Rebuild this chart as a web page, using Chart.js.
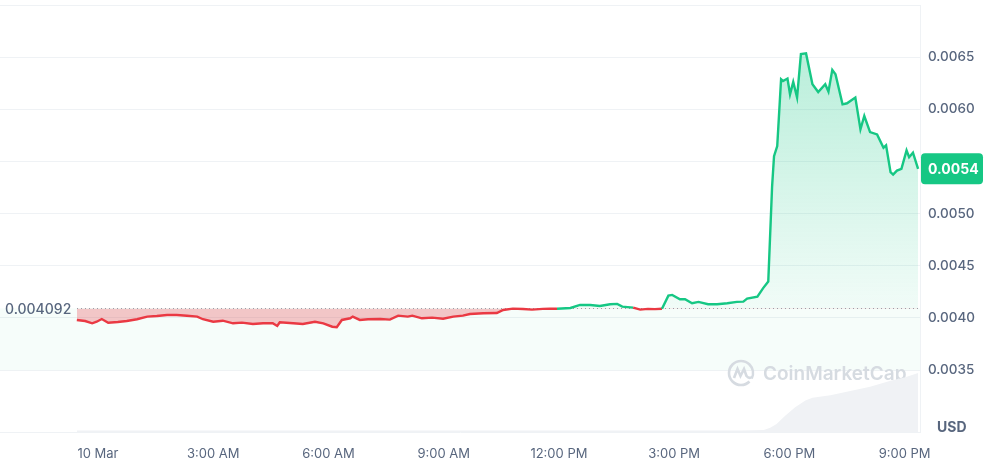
<!DOCTYPE html>
<html>
<head>
<meta charset="utf-8">
<script src="https://cdn.jsdelivr.net/npm/chart.js@4.4.1/dist/chart.umd.min.js"></script>
<style>
  html, body { margin: 0; padding: 0; background: #ffffff; }
  #wrap { width: 987px; height: 458px; }
</style>
</head>
<body>
<div id="wrap"><canvas id="c" width="987" height="458"></canvas></div>
<script>
// ---- Data (minutes from 00:00, 10 Mar) ----
const baseline = 0.004092;
const minutes = [-33,-20,-9,-2,6,16,31,45,61,77,92,108,123,139,155,164,180,195,211,225,242,258,273,280,284,305,320,339,352,366,373,381,394,398,409,422,441,456,469,484,491,506,522,539,555,570,581,602,623,633,648,664,678,695,706,717,738,753,769,784,800,811,819,836,847,859,870,881,891,897,909,917,928,938,953,967,983,998,1008,1014,1030,1039,1047,1053,1056,1061,1067,1070,1077,1081,1086,1092,1098,1106,1116,1125,1136,1141,1147,1152,1163,1170,1183,1191,1197,1206,1217,1227,1231,1238,1242,1248,1255,1263,1267,1273,1281];
const prices = [0.003981,0.003971,0.003949,0.003964,0.003990,0.003955,0.003962,0.003971,0.003988,0.004013,0.004019,0.004029,0.004029,0.004022,0.004013,0.003988,0.003964,0.003974,0.003949,0.003955,0.003942,0.003949,0.003949,0.003923,0.003959,0.003949,0.003942,0.003964,0.003949,0.003916,0.003911,0.003981,0.003997,0.004013,0.003981,0.003988,0.003990,0.003984,0.004022,0.004013,0.004022,0.003997,0.004003,0.003993,0.004013,0.004022,0.004038,0.004045,0.004048,0.004077,0.004090,0.004086,0.004080,0.004087,0.004088,0.004089,0.004096,0.004125,0.004125,0.004115,0.004132,0.004135,0.004109,0.004099,0.004080,0.004087,0.004085,0.004088,0.004214,0.004221,0.004180,0.004180,0.004141,0.004154,0.004132,0.004132,0.004141,0.004154,0.004157,0.004186,0.004205,0.004286,0.004349,0.005263,0.005551,0.005647,0.006288,0.006272,0.006295,0.006144,0.006263,0.006113,0.006529,0.006536,0.006240,0.006166,0.006240,0.006170,0.006378,0.006337,0.006048,0.006058,0.006113,0.005808,0.005936,0.005782,0.005760,0.005632,0.005654,0.005397,0.005375,0.005413,0.005430,0.005606,0.005541,0.005584,0.005430];
const volMinutes = [-33,1003,1040,1050,1060,1073,1089,1105,1116,1144,1175,1206,1238,1261,1281];
const volumes = [1.8,1.8,2.3,5,9.4,18.7,29,37,40,43,48,53,60,64,69];
const tickMinutes = [0,180,360,540,720,900,1080,1260];
const tickLabels = ['10 Mar','3:00 AM','6:00 AM','9:00 AM','12:00 PM','3:00 PM','6:00 PM','9:00 PM'];
const priceTicks = [0.0035,0.0040,0.0045,0.0050,0.0055,0.0060,0.0065,0.0070];

const GREEN = '#16c784', RED = '#ea3943', TXT = '#58667e', GRID = '#eff2f5';
Chart.defaults.font.family = 'Inter, "Noto Sans", sans-serif';

const canvas = document.getElementById('c');
const ctx0 = canvas.getContext('2d');
const greenGrad = ctx0.createLinearGradient(0, 50, 0, 310);
greenGrad.addColorStop(0, 'rgba(22,199,132,0.30)');
greenGrad.addColorStop(1, 'rgba(22,199,132,0.06)');

const backPlugin = {
  id: 'back',
  beforeDatasetsDraw(chart) {
    const {ctx, chartArea: a, scales: {x, y}} = chart;
    const yb = y.getPixelForValue(baseline);
    const y35 = y.getPixelForValue(0.0035);
    ctx.save();
    // mint band under baseline
    ctx.fillStyle = 'rgba(22,199,132,0.04)';
    ctx.fillRect(a.left, yb, a.right - a.left, y35 - yb);
    // watermark
    const cx = 741, cy = 373;
    ctx.strokeStyle = '#d6dbe1';
    ctx.lineWidth = 2.6;
    ctx.beginPath();
    ctx.arc(cx, cy, 12, 0.25 * Math.PI, 2.15 * Math.PI);
    ctx.stroke();
    ctx.beginPath();
    ctx.moveTo(cx - 7, cy + 5);
    ctx.lineTo(cx - 3.5, cy - 4);
    ctx.lineTo(cx - 0.5, cy + 3);
    ctx.lineTo(cx + 3, cy - 4);
    ctx.lineTo(cx + 5.5, cy + 3);
    ctx.quadraticCurveTo(cx + 8, cy + 6, cx + 11, cy + 4);
    ctx.stroke();
    ctx.fillStyle = '#d6dbe1';
    ctx.font = '600 19px Inter, "Noto Sans", sans-serif';
    ctx.textBaseline = 'middle';
    ctx.textAlign = 'left';
    ctx.fillText('CoinMarketCap', 763, 374);
    // dotted baseline
    const xs = x.getPixelForValue(minutes[0]);
    ctx.fillStyle = '#9aa3b2';
    for (let px = xs; px < a.right; px += 4) ctx.fillRect(Math.round(px), Math.round(yb), 1, 1);
    ctx.restore();
  }
};

const frontPlugin = {
  id: 'front',
  afterDraw(chart) {
    const {ctx, chartArea: a, scales: {y}} = chart;
    const yb = y.getPixelForValue(baseline);
    ctx.save();
    // baseline label
    ctx.fillStyle = TXT;
    ctx.font = '500 14px Inter, "Noto Sans", sans-serif';
    ctx.textBaseline = 'middle';
    ctx.textAlign = 'left';
    ctx.fillText(baseline.toFixed(6), 5, yb + 1);
    // current price badge
    const last = prices[prices.length - 1];
    const yl = y.getPixelForValue(last);
    const bx = a.right + 1, bw = 62, bh = 31;
    ctx.fillStyle = GREEN;
    ctx.beginPath();
    ctx.roundRect(bx, yl - bh / 2, bw, bh, 4);
    ctx.fill();
    ctx.fillStyle = '#ffffff';
    ctx.font = '700 14px Inter, "Noto Sans", sans-serif';
    ctx.fillText(last.toFixed(4), bx + 7, yl + 1);
    // USD
    ctx.fillStyle = TXT;
    ctx.font = '700 14px Inter, "Noto Sans", sans-serif';
    ctx.fillText('USD', 937, 428);
    ctx.restore();
  }
};

new Chart(canvas, {
  data: {
    datasets: [
      {
        type: 'line',
        data: minutes.map((m, i) => ({x: m, y: prices[i]})),
        yAxisID: 'y',
        borderWidth: 2.4,
        pointRadius: 0,
        tension: 0,
        borderColor: GREEN,
        segment: {
          borderColor: c => ((c.p0.parsed.y + c.p1.parsed.y) / 2 >= baseline ? GREEN : RED)
        },
        fill: {value: baseline, above: greenGrad, below: 'rgba(234,57,67,0.28)'},
        order: 1
      },
      {
        type: 'line',
        data: volMinutes.map((m, i) => ({x: m, y: volumes[i]})),
        yAxisID: 'yv',
        borderWidth: 0,
        pointRadius: 0,
        backgroundColor: '#f0f2f5',
        fill: 'origin',
        order: 2
      }
    ]
  },
  options: {
    responsive: false,
    animation: false,
    devicePixelRatio: 1,
    layout: {padding: {top: 5, left: 0, right: 0, bottom: 0}},
    plugins: {legend: {display: false}, tooltip: {enabled: false}},
    scales: {
      x: {
        type: 'linear',
        min: -153, max: 1284,
        grid: {display: false, drawTicks: false},
        border: {display: true, color: GRID},
        afterBuildTicks: s => { s.ticks = tickMinutes.map(v => ({value: v})); },
        afterFit: s => { s.height = 26; s.paddingLeft = 0; s.paddingRight = 0; },
        ticks: {
          color: TXT, font: {size: 13}, padding: 14, maxRotation: 0, autoSkip: false,
          callback: v => { const i = tickMinutes.indexOf(v); return i >= 0 ? tickLabels[i] : ''; }
        }
      },
      y: {
        position: 'right',
        min: 0.002907, max: 0.0070,
        grid: {color: GRID, drawTicks: false},
        border: {display: true, color: GRID},
        afterBuildTicks: s => { s.ticks = priceTicks.map(v => ({value: v})); },
        afterFit: s => { s.width = 67; s.paddingTop = 0; s.paddingBottom = 0; },
        ticks: {
          color: TXT, font: {size: 13.5, weight: '500'}, padding: 8,
          callback: v => (v >= 0.00695 ? '' : v.toFixed(4))
        }
      },
      yv: {display: false, min: 0, max: 500}
    }
  },
  plugins: [backPlugin, frontPlugin]
});
</script>
</body>
</html>
